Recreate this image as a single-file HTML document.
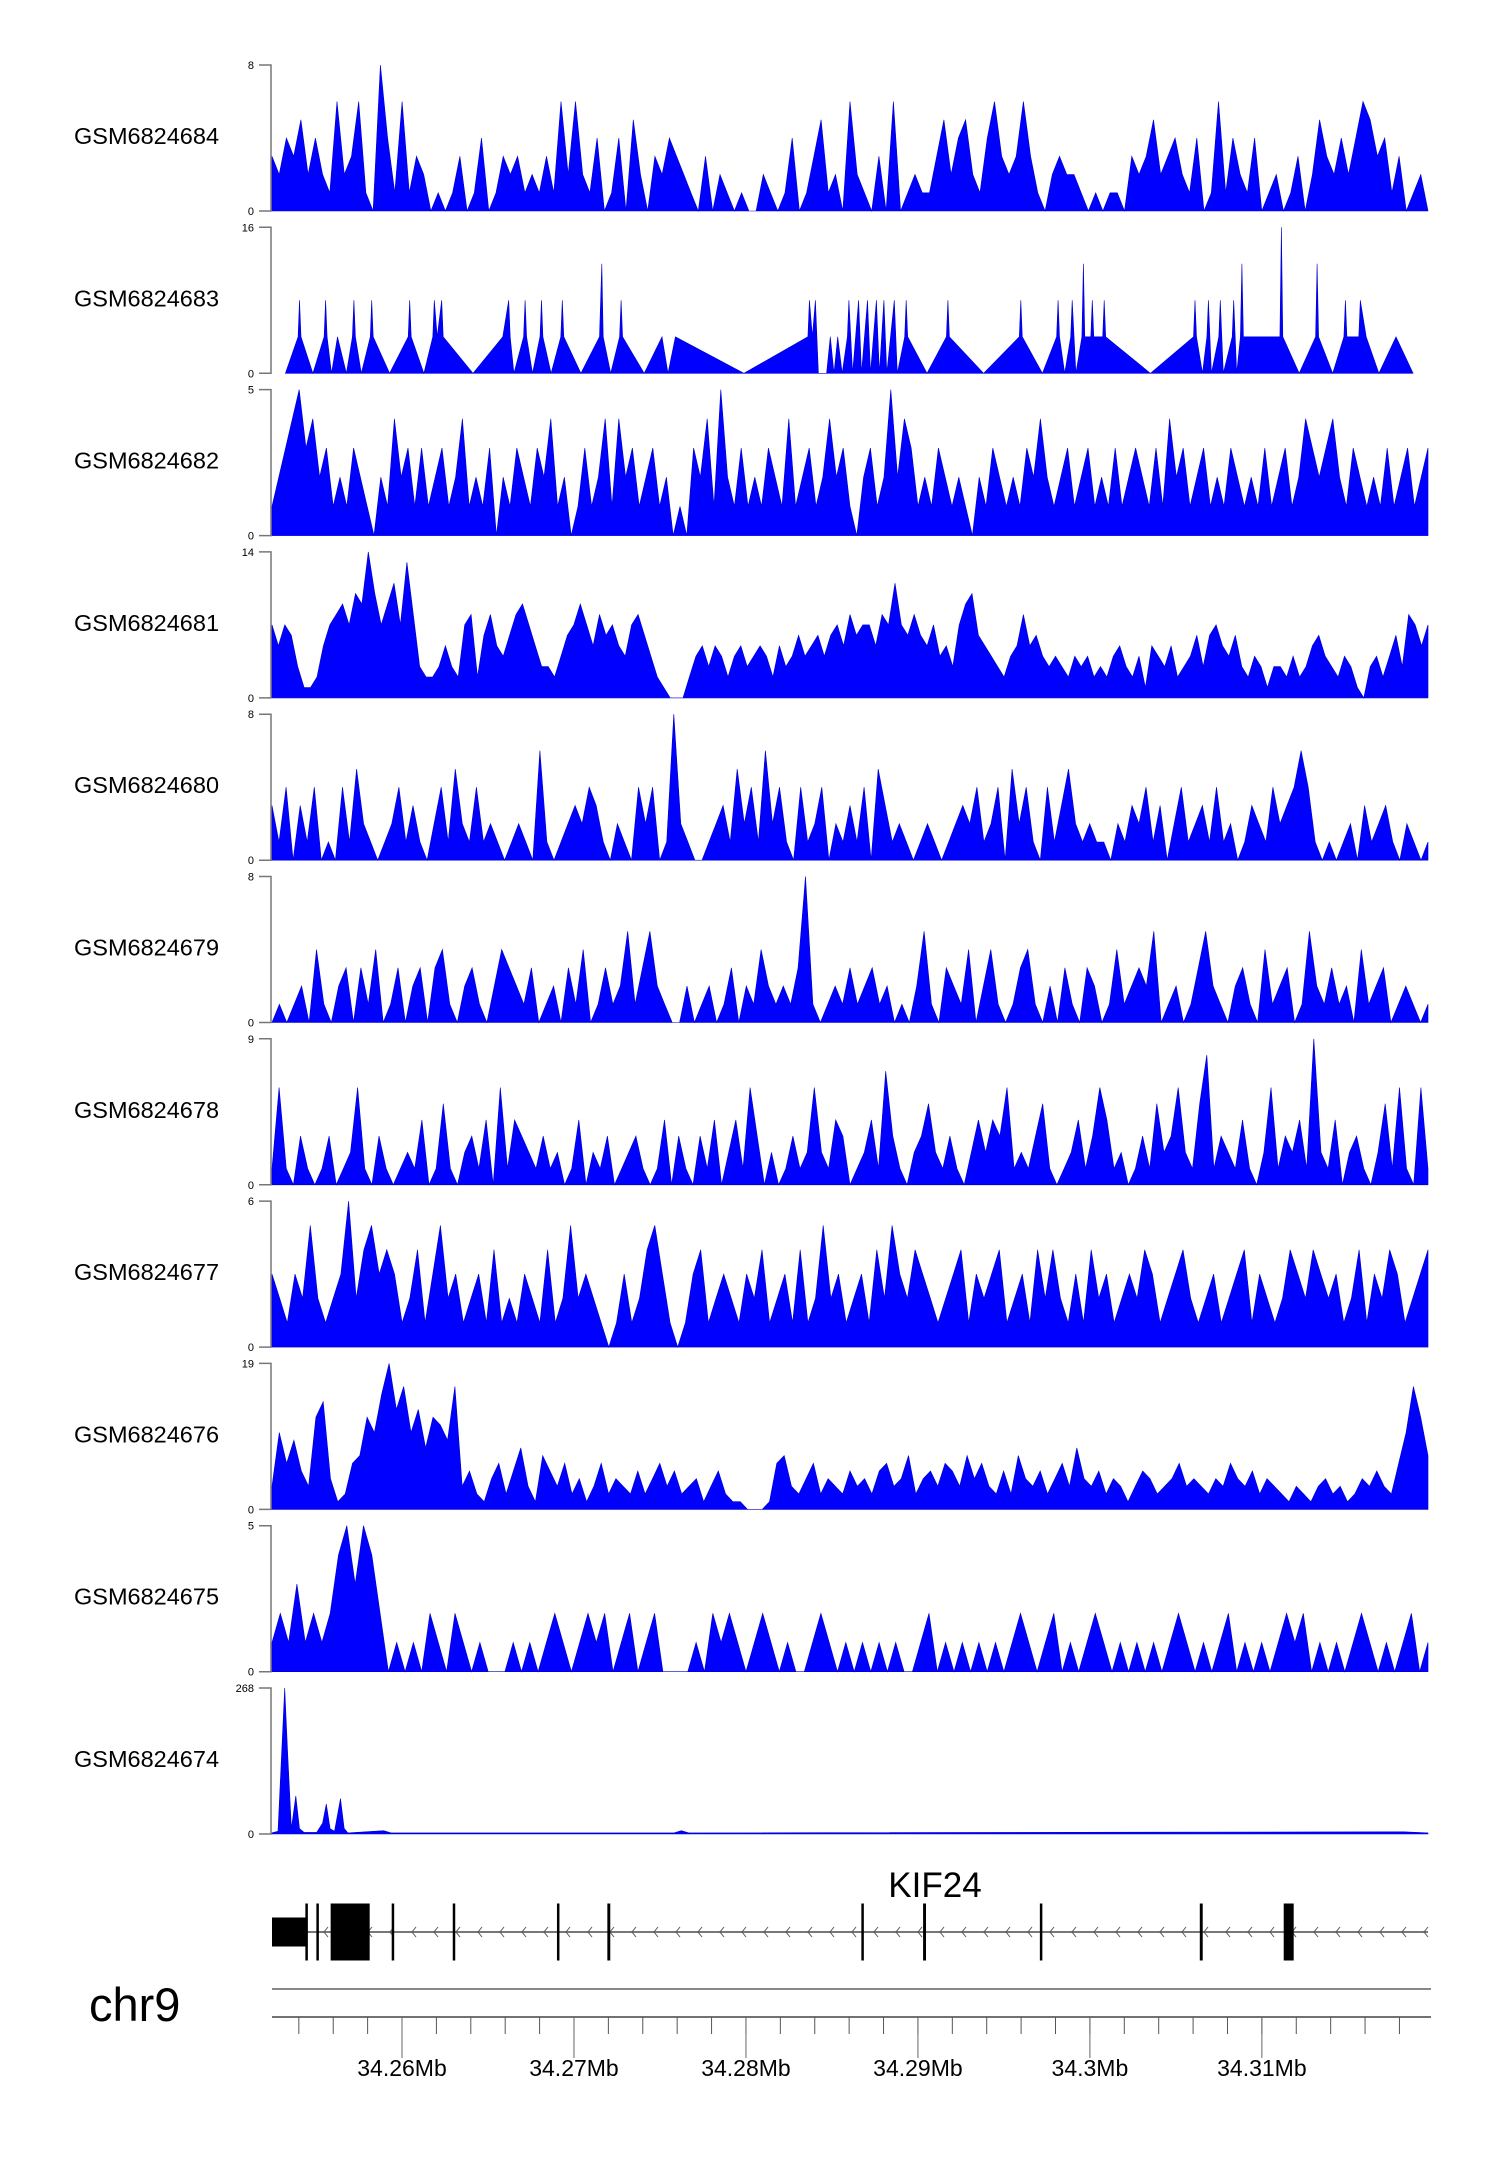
<!DOCTYPE html>
<html><head><meta charset="utf-8"><style>
html,body{margin:0;padding:0;background:#fff;}
svg{display:block;font-family:"Liberation Sans",sans-serif;}
</style></head><body>
<svg id="chart" width="1500" height="2170" viewBox="0 0 1500 2170" xmlns="http://www.w3.org/2000/svg">
<g id="tracks"></g>
<g id="gene"></g>
<g id="axis"></g>
</svg>
<script>
const sampleNames = ["GSM6824684","GSM6824683","GSM6824682","GSM6824681","GSM6824680","GSM6824679","GSM6824678","GSM6824677","GSM6824676","GSM6824675","GSM6824674"];
const sampleMax = [8,16,5,14,8,8,9,6,19,5,268];
const t1 = [3,2,4,3,5,2,4,2,1,6,2,3,6,1,0,8,4,1,6,1,3,2,0,1,0,1,3,0,1,4,0,1,3,2,3,1,2,1,3,1,6,2,6,2,1,4,0,1,4,0,5,2,0,3,2,4,3,2,1,0,3,0,2,1,0,1,0,0,2,1,0,1,4,0,1,3,5,1,2,0,6,2,1,0,3,0,6,0,1,2,1,1,3,5,2,4,5,2,1,4,6,3,2,3,6,3,1,0,2,3,2,2,1,0,1,0,1,1,0,3,2,3,5,2,3,4,2,1,4,0,1,6,1,4,2,1,4,0,1,2,0,1,3,0,2,5,3,2,4,2,4,6,5,3,4,1,3,0,1,2,0];
const t2pos = [18,35,37,39,55,70,72,74,80,88,100,108,110,112,120,132,134,136,158,183,185,187,204,216,218,222,228,230,270,310,318,320,325,338,340,342,350,360,362,364,375,388,390,392,415,440,443,445,455,467,469,471,500,524,532,542,634,720,722,726,730,734,745,750,755,760,766,773,775,780,788,792,800,804,812,816,822,826,836,840,850,852,854,880,906,908,910,956,1004,1006,1008,1035,1054,1056,1058,1065,1073,1075,1080,1088,1090,1092,1100,1102,1104,1116,1118,1120,1180,1238,1240,1242,1250,1256,1258,1262,1272,1274,1278,1290,1292,1296,1301,1303,1305,1320,1354,1356,1358,1380,1402,1404,1406,1425,1440,1442,1444,1460,1462,1470,1487,1510,1533];
const t2val = [0,4,8,4,0,4,8,4,0,4,0,4,8,4,0,4,8,4,0,4,8,4,0,4,8,4,8,4,0,4,8,4,0,4,8,4,0,4,8,4,0,4,8,4,0,4,12,4,0,4,8,4,0,4,0,4,0,4,8,4,8,0,0,4,0,4,0,4,8,0,8,0,8,0,8,0,8,0,8,0,4,8,4,0,4,8,4,0,4,8,4,0,4,8,4,0,4,8,0,4,12,4,4,8,4,4,8,4,0,4,8,4,0,4,8,0,4,8,0,4,8,0,4,12,4,4,4,16,4,0,4,12,4,0,4,8,4,4,8,4,0,4,0];
const t3 = [1,2,3,4,5,3,4,2,3,1,2,1,3,2,1,0,2,1,4,2,3,1,3,1,2,3,1,2,4,1,2,1,3,0,2,1,3,2,1,3,2,4,1,2,0,1,3,1,2,4,1,4,2,3,1,2,3,1,2,0,1,0,3,2,4,1,5,2,1,3,1,2,1,3,2,1,4,1,2,3,1,2,4,2,3,1,0,2,3,1,2,5,2,4,3,1,2,1,3,2,1,2,1,0,2,1,3,2,1,2,1,3,2,4,2,1,2,3,1,2,3,1,2,1,3,1,2,3,2,1,3,1,4,2,3,1,2,3,1,2,1,3,2,1,2,1,3,1,2,3,1,2,4,3,2,3,4,2,1,3,2,1,2,1,3,1,2,3,1,2,3];
const t4 = [7,5,7,6,3,1,1,2,5,7,8,9,7,10,9,14,10,7,9,11,7,13,8,3,2,2,3,5,3,2,7,8,2,6,8,5,4,6,8,9,7,5,3,3,2,4,6,7,9,7,5,8,6,7,5,4,7,8,6,4,2,1,0,0,0,2,4,5,3,5,4,2,4,5,3,4,5,4,2,5,3,4,6,4,5,6,4,6,7,5,8,6,7,7,5,8,7,11,7,6,8,6,5,7,4,5,3,7,9,10,6,5,4,3,2,4,5,8,5,6,4,3,4,3,2,4,3,4,2,3,2,4,5,3,2,4,1,5,4,3,5,2,3,4,6,3,6,7,5,4,6,3,2,4,3,1,3,3,2,4,2,3,5,6,4,3,2,4,3,1,0,3,4,2,4,6,3,8,7,5,7];
const t5 = [3,1,4,0,3,1,4,0,1,0,4,1,5,2,1,0,1,2,4,1,3,1,0,2,4,1,5,2,1,4,1,2,1,0,1,2,1,0,6,1,0,1,2,3,2,4,3,1,0,2,1,0,4,2,4,0,1,8,2,1,0,0,1,2,3,1,5,2,4,1,6,2,4,1,0,4,1,2,4,0,2,1,3,1,4,0,5,3,1,2,1,0,1,2,1,0,1,2,3,2,4,1,2,4,0,5,2,4,1,0,4,1,3,5,2,1,2,1,1,0,2,1,3,2,4,1,3,0,2,4,1,2,3,1,4,1,2,0,1,3,2,1,4,2,3,4,6,4,1,0,1,0,1,2,0,3,1,2,3,1,0,2,1,0,1];
const t6 = [0,1,0,1,2,0,4,1,0,2,3,0,3,1,4,0,1,3,0,2,3,0,3,4,1,0,2,3,1,0,2,4,3,2,1,3,0,1,2,0,3,1,4,0,1,3,1,2,5,1,3,5,2,1,0,0,2,0,1,2,0,1,3,0,2,1,4,2,1,2,1,3,8,1,0,1,2,1,3,1,2,3,1,2,0,1,0,2,5,1,0,3,2,1,4,0,2,4,1,0,1,3,4,1,0,2,0,3,1,0,3,2,0,1,4,1,2,3,2,5,0,1,2,0,1,3,5,2,1,0,2,3,1,0,4,1,2,3,0,1,5,2,1,3,1,2,0,4,1,2,3,0,1,2,1,0,1];
const t7 = [1,6,1,0,3,1,0,1,3,0,1,2,6,1,0,3,1,0,1,2,1,4,0,1,5,1,0,2,3,1,4,0,6,1,4,3,2,1,3,1,2,0,1,4,0,2,1,3,0,1,2,3,1,0,1,4,0,3,1,0,3,1,4,0,2,4,1,6,3,0,2,0,1,3,1,2,6,2,1,4,3,0,1,2,4,1,7,3,1,0,2,3,5,2,1,3,1,0,2,4,2,4,3,6,1,2,1,3,5,1,0,1,2,4,1,3,6,4,1,2,0,1,3,1,5,2,3,6,2,1,5,8,1,3,2,1,4,1,0,2,6,1,3,2,4,1,9,2,1,4,0,2,3,1,0,2,5,1,6,1,0,6,1];
const t8 = [3,2,1,3,2,5,2,1,2,3,6,2,4,5,3,4,3,1,2,4,1,3,5,2,3,1,2,3,1,4,1,2,1,3,2,1,4,1,2,5,2,3,2,1,0,1,3,1,2,4,5,3,1,0,1,3,4,1,2,3,2,1,3,2,4,1,2,3,1,4,1,2,5,2,3,1,2,3,1,4,2,5,3,2,4,3,2,1,2,3,4,1,3,2,3,4,1,2,3,1,4,2,4,2,1,3,1,4,2,3,1,2,3,2,4,3,1,2,3,4,2,1,2,3,1,2,3,4,1,3,2,1,2,4,3,2,4,3,2,3,1,2,4,1,3,2,4,3,1,2,3,4];
const t9 = [3,10,6,9,5,3,12,14,4,1,2,6,7,12,10,15,19,13,16,10,13,8,12,11,9,16,3,5,2,1,4,6,2,5,8,3,1,7,5,3,6,2,4,1,3,6,2,4,3,2,5,2,4,6,3,5,2,3,4,1,3,5,2,1,1,0,0,0,1,6,7,3,2,4,6,2,4,3,2,5,3,4,2,5,6,3,4,7,2,4,5,3,6,5,3,7,4,6,3,2,5,2,7,4,3,5,2,4,6,3,8,4,3,5,2,4,3,1,3,5,4,2,3,4,6,3,4,3,2,4,3,6,4,3,5,2,4,3,2,1,3,2,1,3,4,2,3,1,2,4,3,5,3,2,6,10,16,12,7];
const t10 = [1,2,1,3,1,2,1,2,4,5,3,5,4,2,0,1,0,1,0,2,1,0,2,1,0,1,0,0,0,1,0,1,0,1,2,1,0,1,2,1,2,0,1,2,0,1,2,0,0,0,0,1,0,2,1,2,1,0,1,2,1,0,1,0,0,1,2,1,0,1,0,1,0,1,0,1,0,0,1,2,0,1,0,1,0,1,0,1,0,1,2,1,0,1,2,0,1,0,1,2,1,0,1,0,1,0,1,0,1,2,1,0,1,0,1,2,0,1,0,1,0,1,2,1,2,0,1,0,1,0,1,2,1,0,1,0,1,2,0,1];
const t11pos = [0,8,13,17,21,26,32,37,43,60,68,73,78,84,92,97,102,150,160,540,550,560,1520,1553];
const t11val = [2,5,150,268,150,10,70,10,3,3,20,55,10,5,65,10,2,6,2,2,6,2,4,2];
const exonStartsKb = [34.25244,34.25438,34.25502,34.25585,34.25940,34.26295,34.26901,34.27194,34.28671,34.29030,34.29709,34.30639,34.31127];
const exonEndsKb   = [34.25451,34.25445,34.25509,34.25812,34.25954,34.26308,34.26914,34.27211,34.28683,34.29047,34.29721,34.30656,34.31185];
const exonThick    = [0.5,1,1,1,1,1,1,1,1,1,1,1,1];
const majorTicks = [34.26,34.27,34.28,34.29,34.30,34.31];
const majorLabels = ["34.26Mb","34.27Mb","34.28Mb","34.29Mb","34.3Mb","34.31Mb"];

const NS="http://www.w3.org/2000/svg";
const X0=272, X1=1428, G0=34.25244, G1=34.31966;
const gx = g => X0 + (g-G0)/(G1-G0)*(X1-X0);
const bx = b => X0 + b/1553*(X1-X0);
function mk(tag, attrs, parent){const e=document.createElementNS(NS,tag);for(const k in attrs)e.setAttribute(k,attrs[k]);parent.appendChild(e);return e;}

const tracks=document.getElementById('tracks');
const series=[t1,null,t3,t4,t5,t6,t7,t8,t9,t10,null];
for(let k=0;k<11;k++){
  const top=65+k*162.3, bot=top+146;
  const yv=v=>bot-(v/sampleMax[k])*(bot-top);
  const g=mk('g',{},tracks);
  
  
  const lab=mk('text',{x:74,y:(top+bot)/2+6,'font-size':23.5,fill:'#000'},g);
  lab.textContent=sampleNames[k];
  
  
  const ax=mk('path',{d:`M259 ${top}H271V${bot}H259`,stroke:'#777','stroke-width':1.5,fill:'none'},g);
  
  
  const tt=mk('text',{x:254,y:top+4,'font-size':11,'text-anchor':'end',fill:'#000'},g);
  tt.textContent=String(sampleMax[k]);
  
  
  const tb=mk('text',{x:254,y:bot+4,'font-size':11,'text-anchor':'end',fill:'#000'},g);
  tb.textContent='0';
  
  
  let pts=[];
  if(k===1){for(let i=0;i<t2pos.length;i++)pts.push([bx(t2pos[i]),yv(t2val[i])]);}
  else if(k===10){for(let i=0;i<t11pos.length;i++)pts.push([bx(t11pos[i]),yv(t11val[i])]);}
  else{const d=series[k];for(let i=0;i<d.length;i++)pts.push([X0+i*(X1-X0)/(d.length-1),yv(d[i])]);}
  let p=`M${pts[0][0].toFixed(1)} ${bot}`;
  for(const q of pts)p+=`L${q[0].toFixed(1)} ${q[1].toFixed(1)}`;
  p+=`L${pts[pts.length-1][0].toFixed(1)} ${bot}Z`;
  const area=mk('path',{d:p,fill:'#0000ff',stroke:'#0000cc','stroke-width':0.6},g);
  
  
}

const gene=document.getElementById('gene');
const gl=mk('line',{x1:X0,x2:X1,y1:1932,y2:1932,stroke:'#777','stroke-width':2},gene);


for(let x=X0+52;x<X1;x+=22){
  const c=mk('path',{d:`M${x+4} 1927L${x} 1932L${x+4} 1937`,stroke:'#555','stroke-width':1,fill:'none'},gene);
  
  
}
for(let i=0;i<exonStartsKb.length;i++){
  const x=gx(exonStartsKb[i]), w=Math.max(2.5,gx(exonEndsKb[i])-x);
  const h=exonThick[i]<1?29:57;
  const r=mk('rect',{x:x,y:1932-h/2,width:w,height:h,fill:'#000'},gene);
  
  
}
const gn=mk('text',{x:935,y:1897,'font-size':35,'text-anchor':'middle',fill:'#000'},gene);
gn.textContent='KIF24';



const axis=document.getElementById('axis');
const chr=mk('text',{x:89,y:2021,'font-size':47,fill:'#000'},axis);
chr.textContent='chr9';


const cl=mk('line',{x1:X0,x2:X1+3,y1:1989,y2:1989,stroke:'#888','stroke-width':2},axis);


const al=mk('line',{x1:X0,x2:X1+3,y1:2017,y2:2017,stroke:'#444','stroke-width':1.5},axis);


for(let g=34.254;g<34.3195;g+=0.002){
  const t=mk('line',{x1:gx(g),x2:gx(g),y1:2017,y2:2034,stroke:'#555','stroke-width':1},axis);
  
  
}
for(let i=0;i<majorTicks.length;i++){
  const x=gx(majorTicks[i]);
  const t=mk('line',{x1:x,x2:x,y1:2017,y2:2058,stroke:'#666','stroke-width':1},axis);
  
  
  const l=mk('text',{x:x,y:2076,'font-size':23,'text-anchor':'middle',fill:'#000'},axis);
  l.textContent=majorLabels[i];
  
  
}
</script>
</body></html>
